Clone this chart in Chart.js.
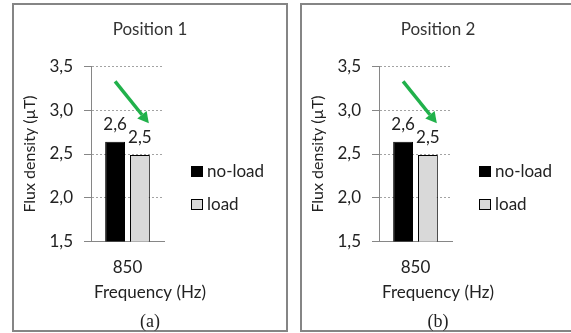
<!DOCTYPE html>
<html>
<head>
<meta charset="utf-8">
<script src="https://cdn.jsdelivr.net/npm/chart.js@4.4.1/dist/chart.umd.min.js"></script>
<style>
  html, body { margin: 0; padding: 0; background: #fff; overflow: hidden; width: 571px; height: 333px; }
  .panel { position: absolute; top: 3px; width: 272px; height: 325px; border: 2px solid #858585; background: #fff; }
  #p1 { left: 12px; }
  #p2 { left: 300px; }
  .panel canvas { display: block; }
  .caption { position: absolute; left: 0; width: 272px; top: 306px; line-height: 20px; text-align: center;
             font: 18px 'Liberation Serif', serif; color: #222; }
</style>
</head>
<body>
<div class="panel" id="p1"><canvas id="c1" width="272" height="325"></canvas><div class="caption" id="cap1"></div></div>
<div class="panel" id="p2"><canvas id="c2" width="272" height="325"></canvas><div class="caption" id="cap2"></div></div>
<script>
'use strict';

// ── Data ──────────────────────────────────────────────────
const categories   = ['850'];
const seriesNames  = ['no-load', 'load'];
const noLoadPos1   = [2.64];
const loadPos1     = [2.49];
const noLoadPos2   = [2.64];
const loadPos2     = [2.49];
const yTicks       = [1.5, 2.0, 2.5, 3.0, 3.5];
const panelTitles  = ['Position 1', 'Position 2'];
const captions     = ['(a)', '(b)'];

// arrow runs from this y value (above no-load) down to this one (above load)
const ARROW_FROM = 3.33;
const ARROW_TO   = 2.85;

// ── Styles ────────────────────────────────────────────────
const FONT   = 'Lato';
const TXT    = '#222';
const AXIS   = '#868686';
const GRID   = '#a3a3a3';
const GREEN  = '#21b14b';
const COLORS = ['#000000', '#d9d9d9'];

// ── Helpers ───────────────────────────────────────────────
function fmtNum(v) {
  return v.toFixed(1).replace('.', ',');
}

// ── Plugins ───────────────────────────────────────────────
const barLabels = {
  id: 'barLabels',
  afterDatasetsDraw(chart) {
    const ctx = chart.ctx;
    ctx.save();
    ctx.font = `17px ${FONT}`;
    ctx.fillStyle = TXT;
    ctx.textAlign = 'center';
    ctx.textBaseline = 'alphabetic';
    chart.data.datasets.forEach((ds, i) => {
      chart.getDatasetMeta(i).data.forEach((bar, j) => {
        ctx.fillText(fmtNum(ds.data[j]), bar.x, bar.y - 12);
      });
    });
    ctx.restore();
  }
};

const trendArrow = {
  id: 'trendArrow',
  afterDatasetsDraw(chart) {
    const ctx = chart.ctx;
    const y   = chart.scales.y;
    const a   = chart.getDatasetMeta(0).data[0];
    const b   = chart.getDatasetMeta(1).data[0];
    const x0  = a.x, y0 = y.getPixelForValue(ARROW_FROM);
    const x1  = b.x + b.width / 2 - 1, y1 = y.getPixelForValue(ARROW_TO);
    const ang = Math.atan2(y1 - y0, x1 - x0);
    const head = 11, half = 6;
    const bx = x1 - head * Math.cos(ang), by = y1 - head * Math.sin(ang);

    ctx.save();
    ctx.strokeStyle = GREEN;
    ctx.fillStyle   = GREEN;
    ctx.lineWidth   = 3.5;
    ctx.beginPath();
    ctx.moveTo(x0, y0);
    ctx.lineTo(bx, by);
    ctx.stroke();
    ctx.beginPath();
    ctx.moveTo(x1, y1);
    ctx.lineTo(bx + half * Math.sin(ang), by - half * Math.cos(ang));
    ctx.lineTo(bx - half * Math.sin(ang), by + half * Math.cos(ang));
    ctx.closePath();
    ctx.fill();
    ctx.restore();
  }
};

const sideLegend = {
  id: 'sideLegend',
  afterDraw(chart) {
    const { ctx, chartArea } = chart;
    const midY = (chartArea.top + chartArea.bottom) / 2;
    ctx.save();
    ctx.font = `17px ${FONT}`;
    ctx.textBaseline = 'middle';
    chart.data.datasets.forEach((ds, i) => {
      const x  = Math.round(chartArea.right + 27);
      const cy = Math.round(midY + 17 + i * 33);
      ctx.fillStyle = ds.backgroundColor;
      ctx.fillRect(x, cy - 5, 12, 11);
      ctx.strokeStyle = '#000';
      ctx.lineWidth = 1;
      ctx.strokeRect(x + 0.5, cy - 4.5, 11, 10);
      ctx.fillStyle = TXT;
      ctx.fillText(ds.label, x + 16, cy + 1);
    });
    ctx.restore();
  }
};

// ── Chart builder ─────────────────────────────────────────
function makeChart(canvasId, title, noLoad, load) {
  return new Chart(document.getElementById(canvasId), {
    type: 'bar',
    data: {
      labels: categories,
      datasets: [
        { label: seriesNames[0], data: noLoad, backgroundColor: COLORS[0], borderColor: '#000', borderWidth: 1 },
        { label: seriesNames[1], data: load,   backgroundColor: COLORS[1], borderColor: '#000', borderWidth: 1 }
      ]
    },
    options: {
      responsive: false,
      animation: false,
      layout: { padding: 0 },
      datasets: { bar: { categoryPercentage: 0.68, barPercentage: 0.8 } },
      plugins: {
        legend: { display: false },
        tooltip: { enabled: false },
        title: {
          display: true, text: title, color: '#333',
          font: { family: FONT, size: 17, weight: 'normal' },
          padding: { top: 14, bottom: 27 }
        },
        // x axis title, centred on the whole panel like the original
        subtitle: {
          display: true, text: 'Frequency (Hz)', position: 'bottom', color: TXT,
          font: { family: FONT, size: 17, weight: 'normal' },
          padding: { top: 0, bottom: 27 }
        }
      },
      scales: {
        x: {
          grid: { display: false, drawTicks: false },
          border: { display: true, color: AXIS, width: 1 },
          ticks: { color: TXT, padding: 16, font: { family: FONT, size: 17 } },
          afterFit: s => { s.height = 41; }
        },
        y: {
          min: yTicks[0], max: yTicks[yTicks.length - 1],
          afterBuildTicks: s => { s.ticks = yTicks.map(v => ({ value: v })); },
          grid: {
            color: c => (c.tick && c.tick.value === yTicks[0]) ? 'rgba(0,0,0,0)' : GRID,
            tickColor: AXIS, tickLength: 7, lineWidth: 1
          },
          border: { display: true, color: AXIS, width: 1, dash: [2, 2] },
          ticks: {
            color: TXT, padding: 11, font: { family: FONT, size: 17 },
            callback: v => fmtNum(v)
          },
          title: {
            display: true, text: 'Flux density (µT)', color: TXT,
            font: { family: FONT, size: 16 }, padding: { top: 6, bottom: 0 }
          },
          afterFit: s => { s.width = 77; }
        },
        // empty right-hand axis that keeps room for the legend
        legendRoom: {
          type: 'linear', position: 'right', display: true,
          grid: { display: false, drawOnChartArea: false, drawTicks: false },
          border: { display: false },
          ticks: { display: false },
          afterFit: s => { s.width = 122; }
        }
      }
    },
    plugins: [barLabels, trendArrow, sideLegend]
  });
}

makeChart('c1', panelTitles[0], noLoadPos1, loadPos1);
makeChart('c2', panelTitles[1], noLoadPos2, loadPos2);
document.getElementById('cap1').textContent = captions[0];
document.getElementById('cap2').textContent = captions[1];
</script>
</body>
</html>
